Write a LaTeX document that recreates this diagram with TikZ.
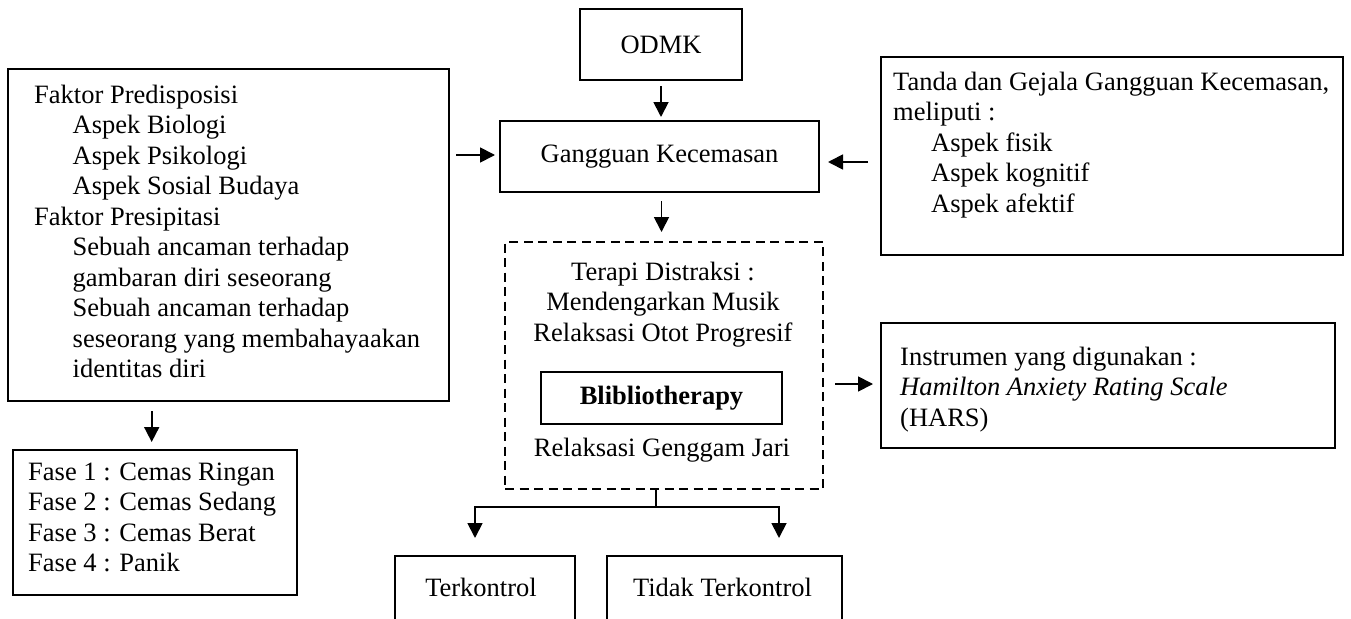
\documentclass[tikz,border=0pt]{standalone}
\usepackage{fontspec}
\setmainfont{Liberation Serif}
\usetikzlibrary{arrows.meta}
\newcommand{\myfs}{\fontsize{26.5}{30.5}\selectfont}
\begin{document}
\begin{tikzpicture}[x=1pt,y=-1pt,
  every node/.style={font=\myfs},
  box/.style={draw, line width=1.9pt, inner sep=0pt, outer sep=0pt},
  dbox/.style={draw, line width=2.1pt, dash pattern=on 9pt off 5.5pt, inner sep=0pt, outer sep=0pt},
  txt/.style={inner sep=0pt, anchor=base west},
  ctxt/.style={inner sep=0pt, anchor=base},
  arr/.style={line width=1.8pt, -{Triangle[width=15pt,length=15pt]}},
  ln/.style={line width=1.8pt}]
\clip (0,0) rectangle (1351,618);
\fill[white] (0,0) rectangle (1351,618);

% central column
\node[box, minimum width=162pt, minimum height=71pt] (odmk) at (661,44.5) {ODMK};
\node[box, minimum width=319pt, minimum height=71pt] (g) at (659.5,156.5) {Gangguan Kecemasan};

\node[dbox, anchor=north west, minimum width=318pt, minimum height=247pt] (dz) at (505,242) {};
\node[ctxt] (dzt) at (663,280) {\begin{tabular}[t]{@{}c@{}}Terapi Distraksi :\\ Mendengarkan Musik\\ Relaksasi Otot Progresif\end{tabular}};
\node[box, minimum width=241pt, minimum height=52pt, font=\myfs\bfseries] (bib) at (661.5,398) {Blibliotherapy};
\node[ctxt] (rgj) at (662,456.7) {Relaksasi Genggam Jari};

% left box
\node[box, anchor=north west, minimum width=441pt, minimum height=332pt] (lb) at (8,69) {};
\node[txt] (lbt) at (34,103) {\begin{tabular}[t]{@{}l@{}}Faktor Predisposisi\\
\hspace*{38.5pt}Aspek Biologi\\
\hspace*{38.5pt}Aspek Psikologi\\
\hspace*{38.5pt}Aspek Sosial Budaya\\
Faktor Presipitasi\\
\hspace*{38.5pt}Sebuah ancaman terhadap\\
\hspace*{38.5pt}gambaran diri seseorang\\
\hspace*{38.5pt}Sebuah ancaman terhadap\\
\hspace*{38.5pt}seseorang yang membahayaakan\\
\hspace*{38.5pt}identitas diri\end{tabular}};

% fase box
\node[box, anchor=north west, minimum width=284pt, minimum height=145pt] (fase) at (12.7,450) {};
\node[txt] (faset) at (28,480) {\begin{tabular}[t]{@{}l@{}}Fase 1 : Cemas Ringan\\
Fase 2 : Cemas Sedang\\
Fase 3 : Cemas Berat\\
Fase 4 : Panik\end{tabular}};

% right box
\node[box, anchor=north west, minimum width=462pt, minimum height=198pt] (td) at (881,57) {};
\node[txt] (tdt) at (893,90) {\begin{tabular}[t]{@{}l@{}}Tanda dan Gejala Gangguan Kecemasan,\\
meliputi :\\
\hspace*{38pt}Aspek fisik\\
\hspace*{38pt}Aspek kognitif\\
\hspace*{38pt}Aspek afektif\end{tabular}};

% HARS box
\node[box, anchor=north west, minimum width=454pt, minimum height=125pt] (hars) at (881,323) {};
\node[txt] (harst) at (900,365) {\begin{tabular}[t]{@{}l@{}}Instrumen yang digunakan :\\
\textit{Hamilton Anxiety Rating Scale}\\
(HARS)\end{tabular}};

% outcome boxes
\node[box, anchor=north west, minimum width=180pt, minimum height=70pt] (tk) at (395,556) {};
\node[ctxt] (tkt) at (481,596.7) {Terkontrol};
\node[box, anchor=north west, minimum width=235pt, minimum height=70pt] (ttk) at (607,556) {};
\node[ctxt] (ttkt) at (722.5,596.7) {Tidak Terkontrol};

% arrows
\draw[arr, shorten <=6pt, shorten >=4pt] (odmk.south) -- (odmk.south |- g.north);
\draw[arr, shorten <=9pt, shorten >=10pt] ([xshift=2pt]g.south) -- ([xshift=2pt]g.south |- dz.north);
\draw[arr, shorten <=7pt, shorten >=5pt] ([yshift=1.5pt]g.west -| lb.east) -- ([yshift=1.5pt]g.west);
\draw[arr, shorten <=13pt, shorten >=9pt] ([yshift=-5.5pt]g.east -| td.west) -- ([yshift=-5.5pt]g.east);
\draw[arr, shorten <=12pt, shorten >=8pt] ([yshift=1.5pt]hars.west -| dz.east) -- ([yshift=1.5pt]hars.west);
\draw[arr, shorten <=10pt, shorten >=8pt] ([xshift=-3pt]fase.north |- lb.south) -- ([xshift=-3pt]fase.north);

\coordinate (bj) at (656,507.3);
\coordinate (bl) at (475,507.3);
\coordinate (br) at (779,507.3);
\draw[ln] (bj |- dz.south) -- (bj);
\draw[arr, shorten >=18pt] (bj) -- (bl) -- (bl |- tk.north);
\draw[arr, shorten >=18pt] (bj) -- (br) -- (br |- ttk.north);
\end{tikzpicture}
\end{document}
